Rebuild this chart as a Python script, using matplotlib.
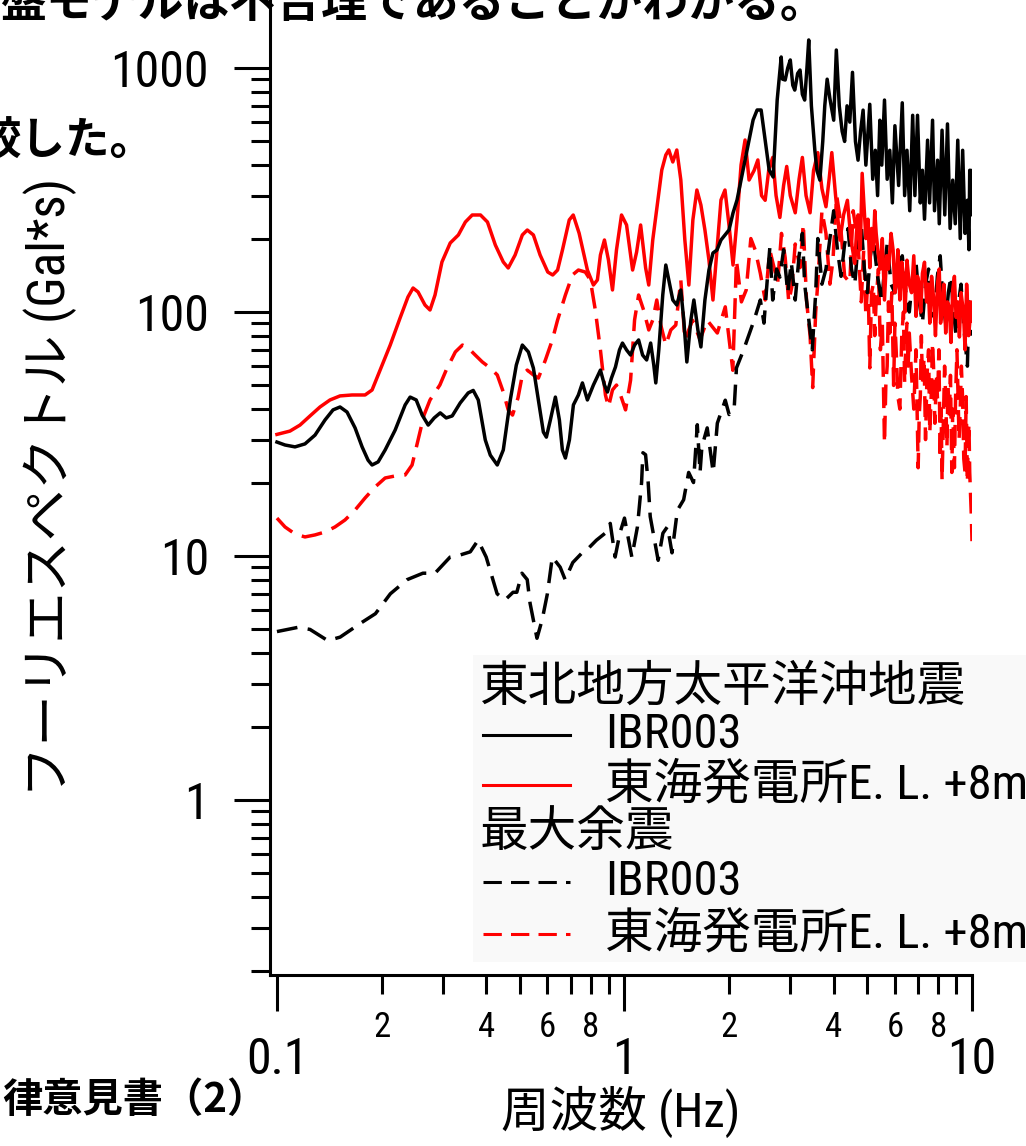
# Fourier spectrum comparison plot (IBR003 vs Tokai E.L.+8m)
import matplotlib
matplotlib.use("Agg")
import matplotlib.pyplot as plt
from matplotlib import font_manager
from matplotlib.ticker import FixedLocator, FixedFormatter, NullFormatter
from matplotlib.patches import Rectangle
from matplotlib.lines import Line2D

# look for a narrow latin face (the original uses half-width gothic digits)
fonts = font_manager.fontManager.ttflist
narrow_family, narrow_stretch = None, "normal"
for fam, st in [("Liberation Sans Narrow", None), ("Roboto Condensed", None),
                ("Roboto", "condensed"), ("DejaVu Sans", "condensed")]:
    for f in fonts:
        if f.name == fam and (st is None or f.stretch in (st, "semi-condensed", 600, 500, 400)):
            if st is None or str(f.stretch) != "normal":
                narrow_family, narrow_stretch = fam, (st or "normal")
                break
    if narrow_family:
        break

if narrow_family:
    fam_list = [narrow_family, "Noto Sans CJK JP", "DejaVu Sans"]
    plus8m = "E. L. +8m"
    tick_size = 36
else:
    fam_list = ["Noto Sans CJK JP", "DejaVu Sans"]
    plus8m = "E.L.+8m"
    tick_size = 34
plt.rcParams['font.family'] = fam_list
plt.rcParams['font.stretch'] = narrow_stretch

# Main shock, IBR003 (black solid)
main_ibr_f = [0.100, 0.1055, 0.1127, 0.1204, 0.1287, 0.1375, 0.1450, 0.1519, 0.1591, 0.1678,
              0.1758, 0.1829, 0.1878, 0.1955, 0.2048, 0.2188, 0.2338, 0.2417, 0.2516, 0.2618,
              0.2724, 0.2835, 0.2950, 0.3069, 0.3194, 0.3368, 0.3551, 0.3671, 0.3796, 0.3976,
              0.4111, 0.4305, 0.4480, 0.4693, 0.4884, 0.5083, 0.5290, 0.5469, 0.5653, 0.5843,
              0.5960, 0.6120, 0.6327, 0.6497, 0.6627, 0.6761, 0.6943, 0.7129, 0.7369, 0.7568,
              0.7822, 0.8140, 0.8527, 0.8757, 0.8933, 0.9173, 0.9420, 0.9674, 0.9868, 1.0139,
              1.0412, 1.0692, 1.0981, 1.1277, 1.1583, 1.1895, 1.2144, 1.2306, 1.2553, 1.2887,
              1.3150, 1.3413, 1.3774, 1.4145, 1.4526, 1.4814, 1.5118, 1.5526, 1.5838, 1.6264,
              1.6593, 1.7040, 1.7500, 1.7971, 1.8456, 1.8953, 1.9464, 1.9989, 2.0528, 2.1081,
              2.1650, 2.2233, 2.2833, 2.3448, 2.4080, 2.4730, 2.5396, 2.6080, 2.6783, 2.7505,
              2.8246, 2.85, 2.90, 2.95, 3.0, 3.05, 3.09, 3.15, 3.2,
              3.25, 3.30, 3.35, 3.39, 3.45, 3.53, 3.58, 3.65, 3.72, 3.77,
              3.83, 3.90, 4.0, 4.07, 4.15, 4.23, 4.30, 4.37, 4.45, 4.53,
              4.62, 4.70, 4.78, 4.86, 4.95, 5.08, 5.18, 5.27, 5.35, 5.43,
              5.5, 5.6, 5.7, 5.8, 5.9, 6.0, 6.15, 6.3, 6.4, 6.5,
              6.62, 6.75, 6.85, 6.97, 7.1, 7.2, 7.3, 7.45, 7.55, 7.7,
              7.8, 7.96, 8.05, 8.2, 8.35, 8.5, 8.65, 8.8, 8.95, 9.1,
              9.25, 9.4, 9.55, 9.7, 9.8, 9.85, 9.93, 10.0]
main_ibr_v = [29.3, 28.5, 28.0, 28.8, 31.3, 36.1, 39.7, 40.8, 38.9, 33.5,
              28.0, 24.7, 23.6, 24.3, 27.2, 32.8, 41.6, 44.8, 43.6, 37.8,
              34.4, 36.8, 38.6, 36.8, 37.5, 42.4, 46.6, 47.7, 43.6, 29.9,
              25.9, 23.6, 27.2, 43.6, 60.6, 73.2, 68.6, 58.9, 43.6, 32.2,
              30.7, 36.1, 44.8, 36.1, 27.2, 25.2, 29.9, 41.6, 45.7, 51.2,
              43.6, 50.2, 57.8, 50.2, 47.0, 53.6, 59.5, 69.9, 74.6, 69.9,
              66.6, 73.2, 76.8, 66.6, 63.6, 74.6, 60.6, 51.2, 69.9, 117.4,
              155.8, 135.3, 112.0, 106.8, 123.1, 92.7, 62.4, 92.7, 112.0, 84.4,
              71.9, 112.0, 148.6, 174.5, 179.5, 197.3, 206.9, 216.8, 254.6, 287.7,
              347.5, 419.8, 507.0, 612.2, 672.9, 672.9, 507.0, 381.9, 357.5, 739.5,
              1109.5, 900, 893, 1000, 1079, 850, 812, 950, 981,
              780, 739, 1000, 1303, 700, 460, 380, 347, 500, 700,
              900, 750, 611, 1185, 700, 550, 500, 700, 600, 960,
              500, 419, 550, 672, 400, 710, 350, 460, 300, 611,
              400, 739, 350, 460, 280, 580, 330, 720, 300, 460,
              260, 640, 300, 640, 280, 381, 240, 506, 280, 611,
              260, 419, 230, 556, 250, 590, 220, 347, 230, 506,
              200, 460, 210, 287, 180, 381, 250, 380]

# Main shock, Tokai E.L.+8m (red solid)
main_tokai_f = [0.100, 0.1090, 0.1165, 0.1245, 0.1330, 0.1421, 0.1519, 0.1645, 0.1793, 0.1878,
                0.1981, 0.2118, 0.2261, 0.2382, 0.2464, 0.2547, 0.2667, 0.2757, 0.2850, 0.2984,
                0.3152, 0.3327, 0.3485, 0.3647, 0.3852, 0.4034, 0.4250, 0.4480, 0.4629, 0.4845,
                0.5083, 0.5252, 0.5469, 0.5718, 0.6016, 0.6216, 0.6420, 0.6630, 0.6936, 0.7121,
                0.7404, 0.7822, 0.8140, 0.8357, 0.8527, 0.8757, 0.8993, 0.9236, 0.9484, 0.9806,
                1.0139, 1.0553, 1.0838, 1.1130, 1.1505, 1.1746, 1.2060, 1.2468, 1.2804, 1.3150,
                1.3413, 1.3774, 1.4145, 1.4526, 1.4918, 1.5320, 1.5733, 1.6157, 1.6593, 1.7040,
                1.7500, 1.7971, 1.8456, 1.8953, 1.9464, 1.9989, 2.0528, 2.1081, 2.1650, 2.2233,
                2.2833, 2.36, 2.42, 2.48, 2.54, 2.6, 2.67, 2.73, 2.80, 2.87, 2.93,
                3.0, 3.1, 3.18, 3.25, 3.33, 3.42, 3.5, 3.6, 3.7, 3.8,
                3.88, 3.95, 4.05, 4.17, 4.27, 4.38, 4.48, 4.6, 4.65, 4.7,
                4.77, 4.83, 4.9, 4.95, 5.02, 5.08, 5.14, 5.2, 5.25, 5.3,
                5.38, 5.45, 5.52, 5.6, 5.68, 5.75, 5.85, 5.93, 6.0, 6.05,
                6.12, 6.2, 6.28, 6.35, 6.42, 6.5, 6.6, 6.7, 6.8, 6.9,
                6.97, 7.05, 7.12, 7.2, 7.3, 7.4, 7.48, 7.56, 7.65, 7.75,
                7.85, 7.96, 8.05, 8.12, 8.2, 8.3, 8.4, 8.5, 8.6, 8.7,
                8.8, 8.9, 9.0, 9.1, 9.2, 9.3, 9.45, 9.55, 9.65, 9.7,
                9.78, 9.85, 9.92, 10.0]
main_tokai_v = [31.5, 32.5, 34.4, 37.5, 40.8, 43.6, 45.3, 45.7, 45.7, 47.9,
                57.8, 73.2, 94.5, 115.2, 125.4, 120.8, 106.8, 101.9, 117.4, 160.3,
                191.8, 206.9, 233.8, 249.8, 249.8, 233.8, 188.2, 160.3, 151.5, 171.2,
                206.9, 216.8, 206.9, 171.2, 145.8, 141.8, 148.6, 179.5, 238.4, 249.8,
                210.4, 148.6, 129.0, 135.3, 171.2, 197.3, 163.4, 123.1, 179.5, 249.8,
                227.3, 148.6, 176.2, 227.3, 151.5, 129.0, 197.3, 285.1, 381.9, 440.0,
                461.3, 412.0, 461.3, 347.5, 197.3, 129.0, 238.4, 316.2, 274.4, 216.8,
                163.4, 112.0, 179.5, 287.7, 316.2, 227.3, 155.8, 238.4, 400.4, 507.0,
                347.5, 380, 420, 300, 287, 380, 430, 300, 244, 330, 395,
                300, 255, 350, 430, 300, 255, 380, 450, 320, 270,
                350, 450, 300, 197, 250, 287, 200, 158, 210, 250,
                180, 370, 260, 200, 240, 152, 220, 180, 260, 210,
                170, 150, 200, 112, 170, 150, 210, 179, 120, 130,
                180, 112, 160, 140, 100, 163, 130, 120, 170, 96,
                140, 130, 100, 144, 160, 110, 130, 90, 140, 115,
                80, 132, 150, 90, 100, 130, 82, 110, 105, 75,
                123, 140, 95, 110, 79, 120, 100, 70, 130, 112,
                80, 90, 110, 92]

# Largest aftershock, IBR003 (black dashed)
after_ibr_f = [0.100, 0.115, 0.1245, 0.14, 0.152, 0.174, 0.192, 0.212, 0.237, 0.263,
               0.285, 0.315, 0.337, 0.36, 0.379, 0.40, 0.43, 0.453, 0.478, 0.49,
               0.507, 0.525, 0.535, 0.56, 0.58, 0.6, 0.62, 0.653, 0.675, 0.71,
               0.755, 0.79, 0.83, 0.88, 0.91, 0.94, 0.97, 1.0, 1.05, 1.09,
               1.12, 1.13, 1.15, 1.17, 1.186, 1.23, 1.25, 1.29, 1.33, 1.37,
               1.42, 1.48, 1.53, 1.58, 1.62, 1.65, 1.67, 1.73, 1.80, 1.85,
               1.95, 2.0, 2.07, 2.1, 2.2, 2.27, 2.36, 2.46, 2.52, 2.58,
               2.62, 2.67, 2.74, 2.8, 2.87, 2.95, 3.02, 3.1, 3.18, 3.25,
               3.3, 3.4, 3.47, 3.55, 3.6, 3.7, 3.8, 3.9, 4.0, 4.1,
               4.2, 4.3, 4.4, 4.5, 4.6, 4.7, 4.8, 4.9, 5.0, 5.1,
               5.2, 5.35, 5.5, 5.6, 5.7, 5.85, 6.0, 6.15, 6.3, 6.45,
               6.6, 6.75, 6.9, 7.05, 7.2, 7.35, 7.5, 7.65, 7.8, 7.95,
               8.1, 8.25, 8.4, 8.55, 8.7, 8.85, 9.0, 9.15, 9.3, 9.45,
               9.6, 9.7, 9.8, 9.9, 10.0]
after_ibr_v = [4.9, 5.1, 5.0, 4.5, 4.65, 5.3, 5.8, 7.0, 8.0, 8.5,
               8.5, 9.9, 10.1, 10.4, 11.6, 9.9, 7.0, 6.6, 7.1, 7.1,
               8.5, 8.0, 6.4, 4.6, 5.5, 7.0, 9.9, 9.0, 8.0, 9.4,
               10.3, 10.8, 11.6, 12.4, 13.6, 9.9, 12.4, 14.3, 9.9, 13.2,
               20, 26.5, 26, 20, 14.5, 10.9, 9.6, 12.4, 13.2, 10.3,
               15.4, 17, 22, 20, 34.5, 22, 28, 33.5, 22, 35,
               43.5, 38, 41, 59, 69.7, 79, 92.5, 112, 90, 140,
               184, 112, 150, 139, 180, 120, 160, 112, 170, 210,
               130, 90, 70, 120, 200, 130, 150, 200, 260, 180,
               140, 190, 220, 150, 130, 190, 230, 150, 120, 170,
               200, 140, 110, 150, 190, 130, 120, 150, 170, 120,
               100, 140, 160, 110, 90, 130, 150, 100, 95, 140,
               170, 110, 90, 120, 140, 100, 80, 110, 130, 90,
               70, 60, 110, 90, 80]

# Largest aftershock, Tokai E.L.+8m (red dashed)
after_tokai_f = [0.100, 0.1055, 0.1127, 0.1204, 0.1287, 0.1375, 0.1469, 0.1570, 0.1678, 0.1793,
                 0.1916, 0.2048, 0.2188, 0.2338, 0.2448, 0.2547, 0.2650, 0.2757, 0.2943, 0.3069,
                 0.3261, 0.3418, 0.3551, 0.3721, 0.3899, 0.4111, 0.4305, 0.4480, 0.4629, 0.4763,
                 0.4937, 0.5083, 0.5252, 0.5469, 0.5653, 0.5923, 0.6200, 0.6420, 0.6761, 0.7082,
                 0.7369, 0.7714, 0.7975, 0.8243, 0.8527, 0.8815, 0.8993, 0.9236, 0.9484, 0.9741,
                 1.0071, 1.0412, 1.0692, 1.0981, 1.1350, 1.1746, 1.2060, 1.2387, 1.2721, 1.3150,
                 1.3593, 1.4050, 1.4526, 1.4918, 1.57,
                 1.65, 1.73, 1.85, 1.95, 2.05, 2.1, 2.17, 2.24, 2.31, 2.38,
                 2.46, 2.54, 2.62, 2.7, 2.76, 2.83, 2.9, 2.97, 3.03, 3.1,
                 3.2, 3.27, 3.34, 3.42, 3.48, 3.55, 3.6, 3.7, 3.8, 3.9,
                 3.98, 4.08, 4.17, 4.3, 4.45, 4.55, 4.7, 4.8, 4.88, 4.95,
                 5.02, 5.08, 5.14, 5.2, 5.25, 5.3, 5.38, 5.45, 5.52, 5.6,
                 5.65, 5.7, 5.75, 5.8, 5.88, 5.95, 6.0, 6.05, 6.12, 6.2,
                 6.28, 6.35, 6.4, 6.45, 6.5, 6.55, 6.6, 6.7, 6.8, 6.9,
                 7.0, 7.05, 7.1, 7.15, 7.2, 7.28, 7.35, 7.42, 7.5, 7.56,
                 7.63, 7.7, 7.75, 7.82, 7.9, 7.96, 8.03, 8.1, 8.15, 8.2,
                 8.27, 8.34, 8.4, 8.47, 8.53, 8.6, 8.67, 8.75, 8.8, 8.9,
                 8.97, 9.05, 9.1, 9.18, 9.25, 9.32, 9.4, 9.47, 9.55, 9.62,
                 9.7, 9.75, 9.8, 9.85, 9.9, 9.95, 10.0]
after_tokai_v = [14.3, 13.15, 12.31, 11.97, 12.20, 12.54, 13.15, 14.05, 15.43, 17.29,
                 19.18, 20.88, 21.28, 21.48, 23.6, 29.9, 37.8, 43.6, 50.2, 57.8,
                 68.6, 73.2, 71.2, 66.6, 62.4, 58.9, 55.2, 47.0, 39.7, 37.8,
                 44.4, 55.2, 57.8, 55.2, 53.6, 63.6, 76.8, 92.7, 117.4, 141.8,
                 148.6, 145.8, 135.3, 101.9, 69.9, 45.7, 40.8, 47.9, 50.2, 45.7,
                 39.7, 52.5, 92.7, 117.4, 101.9, 84.4, 92.7, 112.0, 88.4, 73.2,
                 84.4, 88.4, 135.3, 76.8, 92.5,
                 77, 92.5, 82, 105, 57.7, 163, 110, 123, 200, 179,
                 144, 112, 179, 150, 132, 210, 167, 110, 127, 190,
                 152, 230, 112, 80, 49, 100, 132, 260, 210, 130,
                 163, 300, 244, 140, 132, 260, 192, 110, 180, 96,
                 140, 59, 120, 130, 80, 112, 150, 70, 90, 29,
                 50, 60, 110, 82, 120, 50, 90, 70, 45, 40,
                 80, 100, 51, 75, 90, 60, 82, 55, 40, 70,
                 23, 38, 45, 80, 51, 65, 30, 55, 70, 32,
                 45, 75, 60, 35, 55, 43.5, 70, 25, 40, 20.4,
                 35, 60, 45, 28, 50, 37, 55, 22, 40, 23,
                 45, 70, 50, 30, 40, 60, 43.5, 25, 22, 45,
                 20, 30, 35, 22, 18, 15, 11.5]

x_major = [0.1, 1, 10]
x_major_labels = ["0.1", "1", "10"]
x_minor = [0.2, 0.3, 0.4, 0.5, 0.6, 0.7, 0.8, 0.9, 2, 3, 4, 5, 6, 7, 8, 9]
x_minor_labels = ["2", "", "4", "", "6", "", "8", "", "2", "", "4", "", "6", "", "8", ""]
y_major = [1, 10, 100, 1000]
y_major_labels = ["1", "10", "100", "1000"]
y_minor = [m * d for d in [0.1, 1, 10, 100] for m in range(2, 10)]

legend_heads = ["東北地方太平洋沖地震", "最大余震"]
legend_items = ["IBR003", "東海発電所" + plus8m]

fig = plt.figure(figsize=(10.26, 11.46), dpi=100)
ax = fig.add_axes([270 / 1026, 1 - 975 / 1146, 702 / 1026, 975 / 1146])

lw = 2.5
ax.plot(after_tokai_f, after_tokai_v, color="#ff0000", lw=lw, dashes=(6, 3))
ax.plot(after_ibr_f, after_ibr_v, color="black", lw=lw, dashes=(6, 3))
ax.plot(main_tokai_f, main_tokai_v, color="#ff0000", lw=lw)
ax.plot(main_ibr_f, main_ibr_v, color="black", lw=lw)

ax.set_xscale("log")
ax.set_yscale("log")
ax.set_xlim(0.0955, 10)
ax.set_ylim(0.1917, 1900)

ax.spines["top"].set_visible(False)
ax.spines["right"].set_visible(False)
ax.spines["left"].set_linewidth(2.2)
ax.spines["bottom"].set_linewidth(2.2)

ax.xaxis.set_major_locator(FixedLocator(x_major))
ax.xaxis.set_major_formatter(FixedFormatter(x_major_labels))
ax.xaxis.set_minor_locator(FixedLocator(x_minor))
ax.xaxis.set_minor_formatter(FixedFormatter(x_minor_labels))
ax.yaxis.set_major_locator(FixedLocator(y_major))
ax.yaxis.set_major_formatter(FixedFormatter(y_major_labels))
ax.yaxis.set_minor_locator(FixedLocator(y_minor))
ax.yaxis.set_minor_formatter(NullFormatter())

ax.tick_params(which="major", direction="out", length=26, width=2.2, labelsize=tick_size, pad=18)
ax.tick_params(which="minor", direction="out", length=14, width=2.2, labelsize=25, pad=12)

ax.set_ylabel("フーリエスペクトル (Gal*s)", fontsize=37, va="center")
ax.yaxis.set_label_coords(-0.313, 0.5)
ax.set_xlabel("周波数 (Hz)", fontsize=35, va="center")
ax.xaxis.set_label_coords(0.5, -0.14)

# legend box drawn by hand (headers are not indented)
fig.add_artist(Rectangle((473 / 1026, 1 - 962 / 1146), 553 / 1026, 307 / 1146,
                         transform=fig.transFigure, facecolor="#f9f9f9", edgecolor="none"))
rows = [688, 735, 785, 833, 882, 934]
styles = [None, ("black", "-"), ("#ff0000", "-"), None, ("black", "--"), ("#ff0000", "--")]
texts = [legend_heads[0], legend_items[0], legend_items[1],
         legend_heads[1], legend_items[0], legend_items[1]]
for yy, st, tx in zip(rows, styles, texts):
    fy = 1 - yy / 1146
    if st is None:
        fig.text(480 / 1026, fy, tx, fontsize=35, va="center", ha="left")
    else:
        ln = Line2D([483 / 1026, 570 / 1026], [fy, fy], transform=fig.transFigure,
                    color=st[0], lw=2.2)
        if st[1] == "--":
            ln.set_dashes((6, 3))
        fig.add_artist(ln)
        fig.text(605 / 1026, fy, tx, fontsize=35, va="center", ha="left")

# surrounding document text (cropped like the source page)
doc_font = ["Noto Sans CJK JP", "DejaVu Sans"]
fig.text(0.0, 1 - 17 / 1146, "盤モデルは不合理であることがわかる。", fontsize=33,
         fontweight="bold", va="baseline", ha="left", family=doc_font, fontstretch="normal")
fig.text(-23 / 1026, 1 - 155 / 1146, "較した。", fontsize=32,
         fontweight="bold", va="baseline", ha="left", family=doc_font, fontstretch="normal")
fig.text(2 / 1026, 1 - 1100 / 1146, "律意見書（2）", fontsize=29,
         fontweight="bold", va="center", ha="left", family=doc_font, fontstretch="normal")

fig.savefig("out.png", dpi=100)
